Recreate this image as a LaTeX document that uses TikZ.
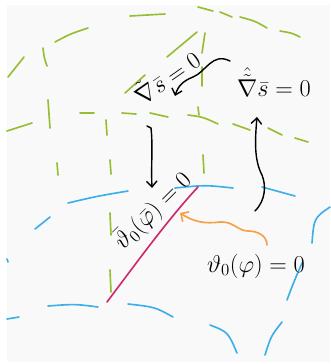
\documentclass[tikz,border=0pt]{standalone}
\usetikzlibrary{arrows.meta}
\definecolor{sgreen}{HTML}{96BE32}
\definecolor{sblue}{HTML}{3CAFEB}
\definecolor{smag}{HTML}{CD286E}
\definecolor{sorange}{HTML}{F5A046}
\definecolor{bgray}{HTML}{FAF9F9}
\begin{document}
\begin{tikzpicture}[x=0.03cm,y=-0.03cm, line cap=round, line join=round,
  gline/.style={draw=sgreen, line width=1.4pt},
  bline/.style={draw=sblue, line width=1.4pt},
  kline/.style={draw=black, line width=1.2pt, -{Straight Barb[length=5pt,width=9pt]}},
  oline/.style={draw=sorange, line width=1.4pt, -{Straight Barb[length=5pt,width=10pt]}},
  lab/.style={font=\huge, inner sep=0pt}]
\useasboundingbox (0,0) rectangle (330,364);
\fill[white] (0,0) rectangle (330,364);
\fill[bgray] (7,5) rectangle (330,362);
% green dashed structure
\draw[gline] (8,77) -- (24,57);
\draw[gline] (55,42) .. controls (70,34) .. (88,28);
\draw[gline] (130,16) -- (165,14);
\draw[gline] (198,7) -- (213,11);
\draw[gline] (220,12) -- (232,17);
\draw[gline] (240,17) .. controls (255,21) .. (267,28);
\draw[gline] (280,31) .. controls (292,33) .. (300,37);
\draw[gline] (43,48) .. controls (44,57) .. (47,66);
\draw[gline] (48,100) -- (50,128);
\draw[gline] (57,163) -- (58,175);
\draw[gline] (7,131) -- (32,123);
\draw[gline] (80,113) -- (94,113);
\draw[gline] (122,113) -- (136,114);
\draw[gline] (150,113) -- (168,117);
\draw[gline] (188,115) .. controls (203,117) .. (218,124);
\draw[gline] (198,107) -- (199,115);
\draw[gline] (233,124) -- (250,130);
\draw[gline] (268,128) -- (282,135);
\draw[gline] (295,138) -- (308,142);
\draw[gline] (106,120) -- (107,135);
\draw[gline] (110,160) -- (111,174);
\draw[gline] (110,213) -- (111,235);
\draw[gline] (110,270) -- (111,292);
\draw[gline] (205,33) -- (202,53);
\draw[gline] (202,67) -- (202,86);
\draw[gline] (203,155) -- (204,173);
\draw[gline] (125,93) -- (145,75);
\draw[gline] (167,57) -- (197,32);
% blue dashed structure
\draw[bline] (68,203) .. controls (98,196) .. (128,191);
\draw[bline] (175,188) .. controls (205,185) .. (233,188);
\draw[bline] (262,187) -- (295,196);
\draw[bline] (35,229) -- (50,217);
\draw[bline] (7,259) -- (8,262);
\draw[bline] (312,243) .. controls (314,218) .. (330,207);
\draw[bline] (287,300) .. controls (293,284) .. (302,263);
\draw[bline] (265,355) .. controls (271,336) .. (282,322);
\draw[bline] (210,325) .. controls (228,332) .. (237,353);
\draw[bline] (128,304) .. controls (155,307) .. (173,317);
\draw[bline] (48,306) .. controls (75,304) .. (98,307);
\draw[bline] (7,319) -- (19,317);
% magenta line
\draw[smag, line width=1.4pt] (107,302) .. controls (140,258) and (170,217) .. (198,187);
% labels
\node[lab] (rt) at (274,82) {$\hat{\tilde{\nabla}}\bar{s}=0$};
\node[lab, rotate=35] (lt) at (166,76) {$\tilde{\nabla}\bar{s}=0$};
\node[lab, rotate=45] (ln) at (153,211) {$\bar{\vartheta}_0(\bar{\varphi})=0$};
\node[lab] (br) at (256,266) {$\vartheta_0(\varphi)=0$};
% connector ends
\coordinate (a1) at (230,61);
\coordinate (a2) at (175,96);
\coordinate (d1) at (147,126);
\coordinate (d2) at (152,188);
\coordinate (u1) at (255,211);
\coordinate (u2) at (257,117);
\coordinate (o1) at (267,245);
\coordinate (o2) at (180,213);
% black arrows
\draw[kline] (a1) .. controls (212,52) and (206,72) .. (193,77) .. controls (183,81) and (178,86) .. (a2);
\draw[kline] (d1) -- (151,128) .. controls (153,145) and (151,165) .. (d2);
\draw[kline] (u1) .. controls (266,200) and (266,185) .. (262,175) .. controls (254,160) and (255,140) .. (u2);
% orange squiggle
\draw[oline] (o1) .. controls (267,236) and (258,231) .. (248,231) .. controls (238,231) and (233,221) .. (220,222) .. controls (205,224) and (194,222) .. (o2);
\end{tikzpicture}
\end{document}
